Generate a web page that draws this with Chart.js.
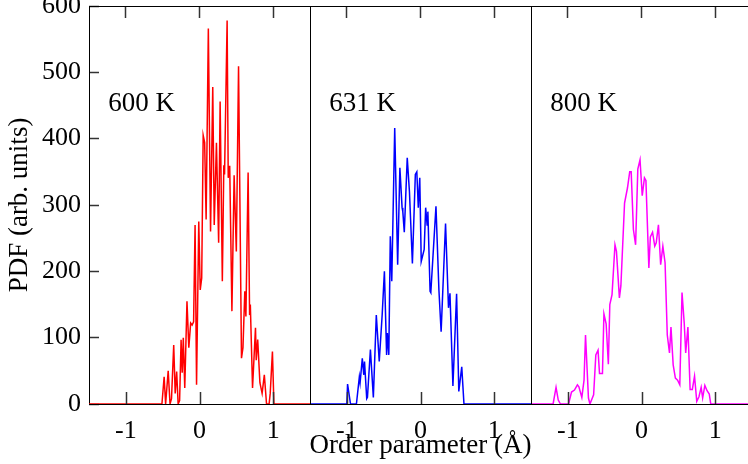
<!DOCTYPE html>
<html>
<head>
<meta charset="utf-8">
<script src="https://cdn.jsdelivr.net/npm/chart.js@4.4.1/dist/chart.umd.min.js"></script>
<style>
  html, body { margin: 0; padding: 0; background: #fff; overflow: hidden; }
  #wrap { position: relative; width: 752px; height: 464px; }
</style>
</head>
<body>
<div id="wrap"><canvas id="c"></canvas></div>
<script>
// Temperatures shown in the three side-by-side panels
const panelLabels = ['600 K', '631 K', '800 K'];
const panelColors = ['#ff0000', '#0000ff', '#ff00ff'];

// Tick values / labels repeated in every panel (order parameter, Å)
const xTickValues = [-1, 0, 1];
const xTickLabels = ['-1', '0', '1'];
const yTickValues = [0, 100, 200, 300, 400, 500, 600];

// 600 K distribution
const x600 = [-1.5, -0.51, -0.48, -0.46, -0.425, -0.40, -0.38, -0.35, -0.33, -0.31, -0.29, -0.27, -0.25, -0.235, -0.22, -0.20, -0.17, -0.145, -0.12, -0.10, -0.08, -0.06, -0.04, -0.01, 0.01, 0.03, 0.05, 0.07, 0.09, 0.12, 0.15, 0.18, 0.20, 0.23, 0.26, 0.28, 0.31, 0.33, 0.34, 0.375, 0.39, 0.41, 0.44, 0.47, 0.50, 0.53, 0.57, 0.59, 0.615, 0.63, 0.66, 0.68, 0.69, 0.72, 0.76, 0.77, 0.79, 0.82, 0.85, 0.88, 0.91, 0.945, 0.96, 0.99, 1.01, 1.5];
const y600 = [0, 0, 41, 0, 50, 0, 8, 89, 16, 49, 0, 5, 97, 47, 100, 24, 155, 85, 122, 119, 124, 270, 29, 275, 172, 190, 405, 394, 278, 566, 260, 478, 270, 394, 243, 456, 185, 360, 346, 578, 341, 359, 140, 345, 230, 509, 69, 85, 170, 132, 349, 134, 150, 24, 115, 66, 97, 32, 16, 44, 0, 0, 16, 79, 0, 0];

// 631 K distribution
const x631 = [-1.5, -1.00, -0.99, -0.95, -0.87, -0.83, -0.82, -0.79, -0.77, -0.76, -0.73, -0.72, -0.68, -0.64, -0.60, -0.56, -0.52, -0.49, -0.46, -0.45, -0.43, -0.41, -0.39, -0.35, -0.31, -0.28, -0.25, -0.24, -0.22, -0.18, -0.15, -0.11, -0.07, -0.05, -0.03, -0.01, 0.01, 0.05, 0.07, 0.09, 0.10, 0.13, 0.14, 0.21, 0.25, 0.28, 0.34, 0.38, 0.40, 0.44, 0.49, 0.52, 0.56, 0.59, 1.5];
const y631 = [0, 0, 30, 0, 0, 41, 32, 69, 44, 64, 8, 10, 82, 10, 134, 64, 135, 200, 74, 107, 74, 253, 185, 416, 210, 356, 296, 290, 259, 371, 320, 212, 346, 350, 296, 341, 215, 233, 296, 270, 290, 170, 168, 298, 172, 109, 272, 145, 167, 27, 166, 19, 56, 0, 0];

// 800 K distribution
const x800 = [-1.5, -1.20, -1.16, -1.13, -1.10, -0.99, -0.95, -0.91, -0.87, -0.85, -0.81, -0.78, -0.76, -0.72, -0.70, -0.65, -0.62, -0.59, -0.57, -0.53, -0.51, -0.48, -0.45, -0.43, -0.40, -0.36, -0.34, -0.30, -0.28, -0.23, -0.19, -0.16, -0.14, -0.11, -0.08, -0.05, -0.02, 0.01, 0.04, 0.06, 0.10, 0.12, 0.15, 0.18, 0.20, 0.23, 0.26, 0.29, 0.32, 0.35, 0.38, 0.40, 0.43, 0.46, 0.49, 0.52, 0.55, 0.58, 0.60, 0.63, 0.66, 0.69, 0.72, 0.75, 0.78, 0.81, 0.83, 0.86, 0.89, 0.92, 0.94, 1.5];
const y800 = [0, 0, 25, 6, 0, 0, 18, 21, 29, 26, 10, 36, 104, 9, 0, 14, 74, 81, 46, 46, 136, 121, 60, 150, 165, 240, 230, 160, 178, 303, 326, 350, 350, 263, 240, 354, 368, 314, 341, 337, 205, 252, 259, 238, 243, 270, 210, 238, 213, 104, 77, 116, 59, 39, 36, 29, 168, 122, 77, 116, 22, 22, 42, 4, 11, 25, 9, 28, 20, 15, 0, 0];

const panelX = [x600, x631, x800];
const panelY = [y600, y631, y800];

// Each panel spans -1.5..1.5 Å; panels are laid out on one shared axis
const PANEL_HALF = 1.5;
const PANEL_WIDTH = 2 * PANEL_HALF;
const panelCenter = i => PANEL_HALF + i * PANEL_WIDTH;

const SERIF = '"Liberation Serif", "Times New Roman", serif';
const X_TICK_LEN = 12;
const Y_TICK_LEN = 10;
const TICK_COLOR = '#333';
const TICK_WIDTH = 1.5;

const datasets = panelLabels.map((label, i) => ({
  label,
  data: panelX[i].map((v, k) => ({ x: v + panelCenter(i), y: panelY[i][k] })),
  borderColor: panelColors[i],
  borderWidth: 1.5,
  pointRadius: 0,
  tension: 0,
  fill: false
}));

function tickLabelFor(value) {
  const p = Math.floor(value / PANEL_WIDTH);
  const rel = value - panelCenter(p);
  const idx = xTickValues.findIndex(t => Math.abs(t - rel) < 1e-6);
  return idx >= 0 ? xTickLabels[idx] : '';
}

function panelTicks(scale) {
  const ticks = [];
  panelLabels.forEach((_, i) => xTickValues.forEach(t => ticks.push({ value: t + panelCenter(i) })));
  scale.ticks = ticks;
}

// Panel dividers, bottom tick marks and temperature labels
const panelPlugin = {
  id: 'panels',
  afterDraw(chart) {
    const ctx = chart.ctx;
    const a = chart.chartArea;
    const xs = chart.scales.x;
    const ys = chart.scales.y;
    ctx.save();
    ctx.lineWidth = 1;
    ctx.strokeStyle = '#000';
    for (let i = 1; i < panelLabels.length; i++) {
      const px = Math.round(xs.getPixelForValue(i * PANEL_WIDTH)) + 0.5;
      ctx.beginPath();
      ctx.moveTo(px, a.top);
      ctx.lineTo(px, a.bottom);
      ctx.stroke();
    }
    ctx.lineWidth = TICK_WIDTH;
    ctx.strokeStyle = TICK_COLOR;
    for (let i = 0; i < panelLabels.length; i++) {
      for (const t of xTickValues) {
        const px = Math.round(xs.getPixelForValue(t + panelCenter(i))) + 0.5;
        ctx.beginPath();
        ctx.moveTo(px, a.bottom);
        ctx.lineTo(px, a.bottom - X_TICK_LEN);
        ctx.stroke();
      }
    }
    ctx.fillStyle = '#000';
    ctx.font = '27px ' + SERIF;
    ctx.textAlign = 'left';
    ctx.textBaseline = 'middle';
    panelLabels.forEach((label, i) => {
      ctx.fillText(label, xs.getPixelForValue(panelCenter(i) - 1.24), ys.getPixelForValue(453));
    });
    ctx.restore();
  }
};

// Tick marks pointing into the plot area
const tickGrid = len => ({
  display: true,
  drawOnChartArea: false,
  drawTicks: true,
  tickLength: -len,
  tickColor: TICK_COLOR,
  tickWidth: TICK_WIDTH
});

new Chart(document.getElementById('c'), {
  type: 'line',
  data: { datasets },
  plugins: [panelPlugin],
  options: {
    responsive: true,
    maintainAspectRatio: false,
    animation: false,
    events: [],
    layout: { padding: { top: 6, left: 0, right: 0, bottom: 0 } },
    plugins: { legend: { display: false }, tooltip: { enabled: false } },
    scales: {
      x: {
        type: 'linear',
        position: 'bottom',
        min: 0,
        max: PANEL_WIDTH * panelLabels.length,
        afterBuildTicks: panelTicks,
        afterFit(scale) {
          scale.height = 60;
          scale.paddingLeft = 0;
          scale.paddingRight = 0;
        },
        grid: { display: false },
        border: { display: true, color: '#000', width: 1 },
        ticks: {
          autoSkip: false,
          maxRotation: 0,
          padding: 4,
          color: '#000',
          font: { family: SERIF, size: 26 },
          callback: v => tickLabelFor(v)
        },
        title: {
          display: true,
          text: 'Order parameter (Å)',
          color: '#000',
          font: { family: SERIF, size: 27 },
          padding: { top: 0, bottom: 2 }
        }
      },
      xTop: {
        type: 'linear',
        position: 'top',
        min: 0,
        max: PANEL_WIDTH * panelLabels.length,
        afterBuildTicks: panelTicks,
        afterFit(scale) {
          scale.height = 0;
          scale.paddingLeft = 0;
          scale.paddingRight = 0;
        },
        grid: tickGrid(X_TICK_LEN),
        border: { display: true, color: '#000', width: 1 },
        ticks: { display: false }
      },
      y: {
        type: 'linear',
        min: 0,
        max: 600,
        afterBuildTicks(scale) {
          scale.ticks = yTickValues.map(v => ({ value: v }));
        },
        afterFit(scale) {
          scale.width = 89;
          scale.paddingTop = 0;
          scale.paddingBottom = 0;
        },
        grid: tickGrid(Y_TICK_LEN),
        border: { display: true, color: '#000', width: 1 },
        ticks: {
          padding: 8 + Y_TICK_LEN,
          color: '#000',
          font: { family: SERIF, size: 26 }
        },
        title: {
          display: true,
          text: 'PDF (arb. units)',
          color: '#000',
          font: { family: SERIF, size: 27 },
          padding: { top: 4, bottom: 0 }
        }
      }
    }
  }
});
</script>
</body>
</html>
